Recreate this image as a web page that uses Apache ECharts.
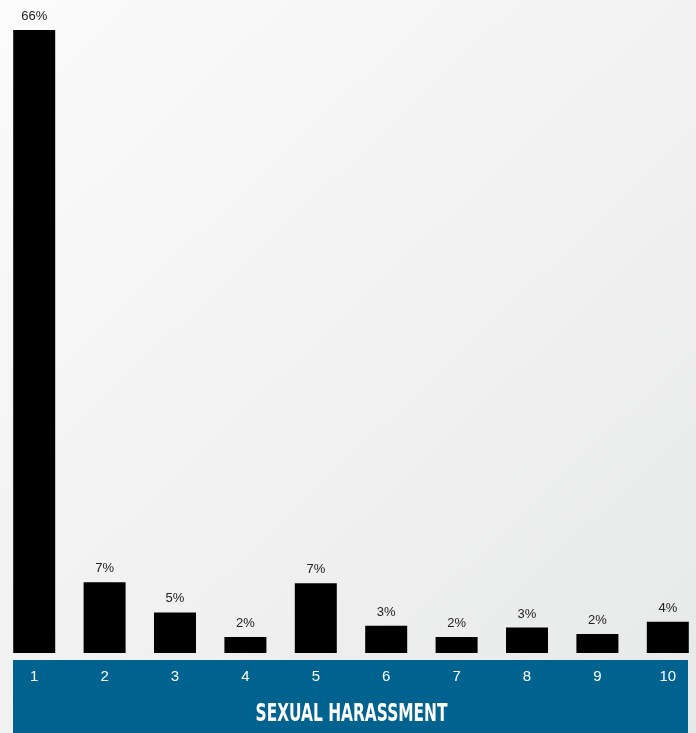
<!DOCTYPE html>
<html>
<head>
<meta charset="utf-8">
<script src="https://cdn.jsdelivr.net/npm/echarts@6/dist/echarts.min.js"></script>
<style>
html,body{margin:0;padding:0;}
#chart{width:696px;height:733px;}
</style>
</head>
<body>
<div id="chart"></div>
<script>
const categories = ['1','2','3','4','5','6','7','8','9','10'];
const values = [66, 7.5, 4.3, 1.7, 7.4, 2.9, 1.7, 2.7, 2.0, 3.3];
const valueLabels = ['66%','7%','5%','2%','7%','3%','2%','3%','2%','4%'];
const titleText = 'SEXUAL HARASSMENT';

const chart = echarts.init(document.getElementById('chart'), null, {renderer:'canvas'});
chart.setOption({
  animation: false,
  backgroundColor: new echarts.graphic.LinearGradient(0, 0, 1, 1, [
    {offset: 0, color: '#fbfbfb'},
    {offset: 1, color: '#e7e8e8'}
  ]),
  graphic: [{
    type: 'rect',
    z: -10,
    shape: {x: 13, y: 660, width: 675, height: 73},
    style: {fill: '#00628f'}
  }, {
    type: 'text',
    z: 20,
    x: 351.5,
    y: 714,
    scaleX: 0.616,
    scaleY: 1,
    style: {
      text: titleText,
      fill: '#ffffff',
      font: 'bold 25px "DejaVu Sans", sans-serif',
      align: 'center',
      verticalAlign: 'middle'
    }
  }],
  grid: {left: -1, right: -7, top: 30, bottom: 80, containLabel: false, outerBoundsMode: 'none'},
  xAxis: {
    type: 'category',
    data: categories,
    axisLine: {show: false},
    axisTick: {show: false},
    z: 10,
    axisLabel: {
      color: '#ffffff',
      fontSize: 15,
      fontFamily: '"Liberation Sans", Arial, sans-serif',
      margin: 16
    }
  },
  yAxis: {
    type: 'value', min: 0, max: 66,
    show: false,
    splitLine: {show: false}
  },
  series: [{
    type: 'bar',
    data: values,
    barWidth: 42,
    itemStyle: {color: '#000000'},
    label: {
      show: true,
      position: 'top',
      distance: 7,
      color: '#222222',
      fontSize: 13,
      fontFamily: '"Liberation Sans", Arial, sans-serif',
      formatter: p => valueLabels[p.dataIndex]
    }
  }]
});
</script>
</body>
</html>
